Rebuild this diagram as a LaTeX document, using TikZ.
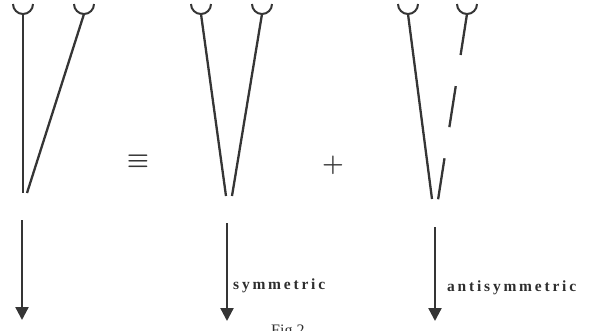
\documentclass[tikz,border=0pt]{standalone}
\usepackage{fontspec}
\setmainfont{Liberation Serif}
\usetikzlibrary{arrows.meta, calc}
\definecolor{fgInk}{HTML}{353535}
\definecolor{fgText}{HTML}{2E2E2E}
\newcommand{\cupat}[1]{\draw[cup] ($(#1)+(-10,-10)$) arc[start angle=180, end angle=0, radius=10];}

\begin{document}
\begin{tikzpicture}[x=1pt, y=-1pt,
  leg/.style={draw=fgInk, line width=2.3pt},
  cup/.style={draw=fgInk, line width=2pt},
  halfleg/.style={leg, dash pattern=on 41.5pt off 31.5pt},
  arr/.style={draw=fgInk, line width=2.3pt, -{Triangle[length=13pt, width=13pt]}},
  lab/.style={font=\fontsize{15.5}{15}\selectfont\bfseries\addfontfeature{LetterSpace=18},
              text=fgText, inner sep=0pt, anchor=base west},
  op/.style={font=\fontsize{26}{26}\selectfont\boldmath, text=fgInk, inner sep=0pt},
  figcap/.style={font=\fontsize{16}{16}\selectfont, text=fgText, inner sep=0pt, anchor=base west}
]
\clip (0,0) rectangle (590,330);

% ===== LEFT: full pair =====
\coordinate (fa) at (23,14);   \coordinate (fae) at (23,193);
\coordinate (fb) at (84,14);   \coordinate (fbe) at (27,193);
\cupat{fa} \cupat{fb}
\draw[leg] (fa) -- (fae);
\draw[leg] (fb) -- (fbe);
\coordinate (fo) at (22,220);  \coordinate (foe) at (22,320);
\draw[arr] (fo) -- (foe);

\node[op] (eqv) at (138,161) {$\equiv$};

% ===== MIDDLE: symmetric pair =====
\coordinate (sa) at (201,14);  \coordinate (sae) at (226,196);
\coordinate (sb) at (262,14);  \coordinate (sbe) at (232,196);
\cupat{sa} \cupat{sb}
\draw[leg] (sa) -- (sae);
\draw[leg] (sb) -- (sbe);
\coordinate (so) at (227,223); \coordinate (soe) at (227,321);
\draw[arr] (so) -- (soe);
\node[lab] (sym) at (233,289) {symmetric};

\node[op] (plus) at (333,165) {$+$};

% ===== RIGHT: antisymmetric pair =====
\coordinate (aa) at (408,14);  \coordinate (aae) at (432,199);
\coordinate (ab) at (467,14);  \coordinate (abe) at (438,200);
\cupat{aa} \cupat{ab}
\draw[leg] (aa) -- (aae);
\draw[halfleg] (ab) -- (abe);
\coordinate (ao) at (435,227); \coordinate (aoe) at (435,321);
\draw[arr] (ao) -- (aoe);
\node[lab] (asym) at (447,291) {antisymmetric};

% caption, cut by the lower edge
\node[figcap] (fig) at (271,335) {Fig.2};

\end{tikzpicture}
\end{document}
